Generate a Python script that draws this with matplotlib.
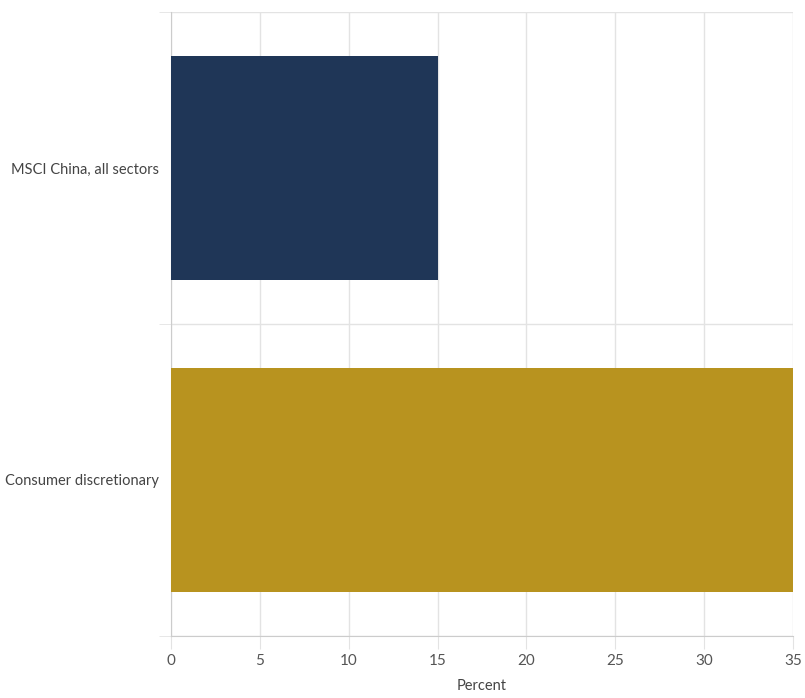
import matplotlib.pyplot as plt
import numpy as np

categories = ["Consumer discretionary", "MSCI China, all sectors"]
values = [35, 15]
colors = ["#b8931f", "#1f3657"]
xticks = [0, 5, 10, 15, 20, 25, 30, 35]

plt.rcParams['font.family'] = ['Lato', 'DejaVu Sans']

fig = plt.figure(figsize=(8.05, 6.98), dpi=100)
ax = fig.add_axes([171 / 805, 62 / 698, 622 / 805, 624 / 698])

y = np.arange(len(categories))
ax.barh(y, values, height=0.72, color=colors, zorder=3)

ax.set_xlim(0, 35)
ax.set_ylim(-0.5, 1.5)
ax.set_xticks(xticks)
ax.set_yticks(y)
ax.set_yticklabels(categories)
ax.set_yticks([-0.5, 0.5, 1.5], minor=True)

grid_c = "#e3e3e3"
ax.grid(axis='x', which='major', color=grid_c, linewidth=1, zorder=0)
ax.grid(axis='y', which='minor', color=grid_c, linewidth=1, zorder=0)
ax.tick_params(axis='x', length=9, color=grid_c, labelsize=11, labelcolor="#555555", pad=4)
ax.tick_params(axis='y', which='major', length=0, labelsize=10.5, labelcolor="#444444", pad=9)
ax.tick_params(axis='y', which='minor', length=9, color=grid_c)

for s in ['top', 'right']:
    ax.spines[s].set_visible(False)
ax.spines['left'].set_color("#cccccc")
ax.spines['bottom'].set_color("#cccccc")

ax.set_xlabel("Percent", fontsize=10.5, color="#444444", labelpad=8)

fig.savefig("out.png", dpi=100)
